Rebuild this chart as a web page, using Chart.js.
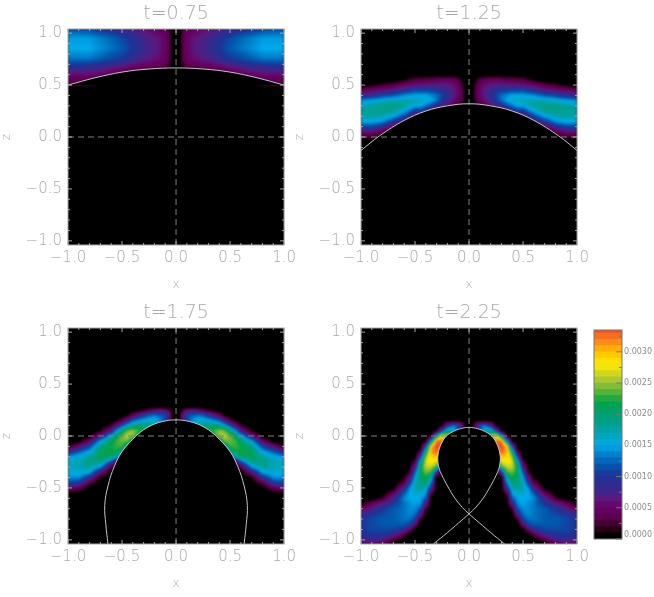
<!DOCTYPE html>
<html>
<head>
<meta charset="utf-8">
<script src="https://cdn.jsdelivr.net/npm/chart.js@4"></script>
<style>
  html, body { margin: 0; padding: 0; background: #fff; }
  body { width: 654px; height: 597px; position: relative; overflow: hidden; }
  canvas { position: absolute; }
</style>
</head>
<body>
<canvas id="p1" width="300" height="295" style="left:0;top:0"></canvas>
<canvas id="p2" width="300" height="295" style="left:293px;top:0"></canvas>
<canvas id="p3" width="300" height="295" style="left:0;top:299px"></canvas>
<canvas id="p4" width="300" height="295" style="left:293px;top:299px"></canvas>
<canvas id="bar" width="64" height="225" style="left:590px;top:324px"></canvas>
<script>
// half columns (x >= 0), the left half of each panel is the mirror of these
const xCols = [0, .03, .06, .1, .15, .2, .25, .3, .35, .4, .45, .5, .55, .6, .7, .8, .9, 1];

// values in units of 1e-4, one row per z
const z075 = [1.04, .95, .85, .75, .7, .65, .6, .55, .5, .45];
const v075 = [
  [0,0,2,4,4.5,5,5.5,6,6.5,7,7.5,8,8.5,9,10,11,11.5,11.5],
  [0,0,3,5,6,6.5,7,7.5,8.5,9.5,10.5,11,12,12.5,13.5,14.5,14.5,14.5],
  [0,0,3,5,6,7,7.5,8,9,10,11,12,12.5,13,14,15,15,15],
  [0,0,3,4.5,5.5,6,6.5,7,8,8.5,9.5,10,10.5,11,12,13,13,13],
  [0,0,2,3.5,4,4.5,5,5,5.5,6,7,7.5,8,8.5,9.5,10,10.5,10.5],
  [0,0,1,2,2,2.5,2.5,3,3.5,4,4.5,5,5.5,6,7,7.5,8,8],
  [0,0,0,1,1,1,2,2,2,2.5,3,3,3.5,4,5,5.5,5.5,5.5],
  [0,0,0,0,0,0,1,1,1,1,1.5,1.5,2,2,3,3.5,4,4],
  [0,0,0,0,0,0,0,0,0,0,0,0,0,0,1,1.5,2,2],
  [0,0,0,0,0,0,0,0,0,0,0,0,0,0,0,0,0,0]
];

const z125 = [.6, .55, .5, .45, .4, .35, .3, .25, .2, .15, .1, .05, 0, -.05];
const v125 = [
  [0,0,0,0,0,0,0,0,0,0,0,0,0,0,0,0,0,0],
  [0,0,1,3,4,4.5,4.5,4,3.5,3.5,3,3,2,1,0,0,0,0],
  [0,0,2,4.5,6,6.5,7,7,7,6.5,6.5,6,5.5,5,3,2,1,0],
  [0,0,3,5,7,8,9,10,10.5,11,11,11,10,9,7,6,5,4],
  [0,0,3,5,7,9,11,13,14,15,15,15,14.5,14,12,11,9,8],
  [0,0,2,4,6,8,10,13,15,16,16.5,16.5,17,17,17,16,15,14],
  [0,0,1,2,3,5,7,8,11,13,15,15,16.5,18,19,18.5,18,17],
  [0,0,0,0,1,1,2,2,5,8,10,10,13,15,18,18.5,18,18],
  [0,0,0,0,0,0,0,1,2,3,3,4,8,11,15,17,17.5,17],
  [0,0,0,0,0,0,0,0,0,1,1,1,3,6,10,14,15.5,15],
  [0,0,0,0,0,0,0,0,0,0,0,0,1,2,4,9,11,11],
  [0,0,0,0,0,0,0,0,0,0,0,0,0,0,0,3,6,6],
  [0,0,0,0,0,0,0,0,0,0,0,0,0,0,0,1,2,2],
  [0,0,0,0,0,0,0,0,0,0,0,0,0,0,0,0,0,0]
];

const z175 = [.28, .25, .2, .15, .1, .05, 0, -.05, -.1, -.15, -.2, -.25, -.3, -.35, -.4, -.45, -.5, -.55];
const v175 = [
  [0,0,0,0,0,0,0,0,0,0,0,0,0,0,0,0,0,0],
  [0,0,2,5,6,5,3,1,0,0,0,0,0,0,0,0,0,0],
  [0,0,7,11,12,13,12,10,7,4,1,0,0,0,0,0,0,0],
  [0,0,4,11,14,16,16,15,14,12,7,3,1,0,0,0,0,0],
  [0,0,0,9,13,17,19,20,20,19,16,11,6,2,0,0,0,0],
  [0,0,0,0,0,12,18,21,23,25,24,20,15,7,1,0,0,0],
  [0,0,0,0,0,0,0,16,21,25,26,24,21,16,7,0,0,0],
  [0,0,0,0,0,0,0,0,12,18,24,24,23,21,15,5,0,0],
  [0,0,0,0,0,0,0,0,0,0,18,23,23,22,19,11,6,1],
  [0,0,0,0,0,0,0,0,0,0,2,18,22,22,21,15,12,8],
  [0,0,0,0,0,0,0,0,0,0,0,5,17,21,21,18,16,14],
  [0,0,0,0,0,0,0,0,0,0,0,0,3,11,19,19,17,16],
  [0,0,0,0,0,0,0,0,0,0,0,0,0,3,14,18,17,16],
  [0,0,0,0,0,0,0,0,0,0,0,0,0,0,6,15,16,15],
  [0,0,0,0,0,0,0,0,0,0,0,0,0,0,1,9,14,14],
  [0,0,0,0,0,0,0,0,0,0,0,0,0,0,0,3,10,11],
  [0,0,0,0,0,0,0,0,0,0,0,0,0,0,0,0,4,6],
  [0,0,0,0,0,0,0,0,0,0,0,0,0,0,0,0,0,1]
];

const z225 = [.15, .1, .05, 0, -.05, -.1, -.15, -.2, -.25, -.3, -.35, -.4, -.45, -.5, -.55, -.6, -.65, -.7, -.75, -.8, -.85, -.9, -.95, -1, -1.04];
const v225 = [
  [0,0,0,0,0,0,0,0,0,0,0,0,0,0,0,0,0,0],
  [0,0,6,12,13,8,1,0,0,0,0,0,0,0,0,0,0,0],
  [0,0,0,10,18,20,10,1,0,0,0,0,0,0,0,0,0,0],
  [0,0,0,0,0,26,30,18,2,0,0,0,0,0,0,0,0,0],
  [0,0,0,0,0,0,33,33,16,1,0,0,0,0,0,0,0,0],
  [0,0,0,0,0,0,33,34,30,10,0,0,0,0,0,0,0,0],
  [0,0,0,0,0,0,30,33,31,20,3,0,0,0,0,0,0,0],
  [0,0,0,0,0,0,25,30,29,25,10,0,0,0,0,0,0,0],
  [0,0,0,0,0,0,20,27,28,27,17,3,0,0,0,0,0,0],
  [0,0,0,0,0,0,0,23,26,26,21,7,1,0,0,0,0,0],
  [0,0,0,0,0,0,0,8,23,24,21,12,2,0,0,0,0,0],
  [0,0,0,0,0,0,0,0,18,22,20,15,6,1,0,0,0,0],
  [0,0,0,0,0,0,0,0,13,20,19,17,10,3,0,0,0,0],
  [0,0,0,0,0,0,0,0,9,17,18,17,14,8,0,0,0,0],
  [0,0,0,0,0,0,0,0,3,15,16,16,15,12,4,0,0,0],
  [0,0,0,0,0,0,0,0,0,12,15,15,15,14,8,2,0,0],
  [0,0,0,0,0,0,0,0,0,8,14,15,14,13,10,7,4,1],
  [0,0,0,0,0,0,0,0,0,2,12,14,14,13,12,10,7,4],
  [0,0,0,0,0,0,0,0,0,0,8,13,14,13,12,11,10,8],
  [0,0,0,0,0,0,0,0,0,0,2,11,13,13,12,12,11,10],
  [0,0,0,0,0,0,0,0,0,0,0,6,11,12,12,12,11,10],
  [0,0,0,0,0,0,0,0,0,0,0,0,5,9,11,11,11,10],
  [0,0,0,0,0,0,0,0,0,0,0,0,0,3,8,10,10,9],
  [0,0,0,0,0,0,0,0,0,0,0,0,0,0,3,7,8,7],
  [0,0,0,0,0,0,0,0,0,0,0,0,0,0,0,4,5,5]
];

// white boundary curves
const cx075 = [-1, -.75, -.5, -.25, 0, .25, .5, .75, 1];
const cz075 = [.5, .57, .625, .655, .665, .655, .625, .57, .5];
const cx125 = [-1, -.83, -.6, -.4, -.2, 0, .2, .4, .6, .83, 1];
const cz125 = [-.13, .01, .16, .25, .3, .32, .3, .25, .16, .01, -.13];
const cx175 = [-.63, -.65, -.66, -.63, -.57, -.5, -.4, -.3, -.2, -.1, 0, .1, .2, .3, .4, .5, .57, .63, .66, .65, .63];
const cz175 = [-1.04, -.85, -.67, -.48, -.29, -.15, -.03, .06, .115, .145, .155, .145, .115, .06, -.03, -.15, -.29, -.48, -.67, -.85, -1.04];
const cx225 = [.33, .2, .1, 0, -.06, -.13, -.2, -.25, -.28, -.29, -.28, -.25, -.21, -.154, -.08, 0, .08, .154, .21, .25, .28, .29, .28, .25, .2, .13, .06, 0, -.1, -.2, -.33];
const cz225 = [-1.04, -.93, -.84, -.75, -.69, -.6, -.48, -.38, -.3, -.22, -.14, -.06, 0, .04, .07, .083, .07, .04, 0, -.06, -.14, -.22, -.3, -.38, -.48, -.6, -.69, -.75, -.84, -.93, -1.04];

const axisTicks = [-1, -.5, 0, .5, 1];
const axisMinor = [-.9, -.8, -.7, -.6, -.4, -.3, -.2, -.1, .1, .2, .3, .4, .6, .7, .8, .9];

// colour table, value in 1e-4
const colorValues = [0, 1, 1.5, 3, 5, 6.5, 8, 10, 12, 14, 15, 16.5, 18, 20, 22, 23, 25, 26.5, 28, 30, 32, 34];
const colorStops = [[0,0,0],[0,0,0],[40,0,20],[85,0,70],[105,0,100],[90,25,125],[55,40,140],[30,50,150],[0,90,175],[0,140,215],[0,170,235],[0,165,190],[0,160,150],[0,160,110],[0,165,70],[60,175,60],[150,195,55],[210,215,30],[255,235,0],[255,190,0],[250,125,30],[235,70,40]];
const barLevels = [1,2,3,4,5,6,7,8,9,10,11,12,13,14,15,16,17,18,19,20,21,22,23,24,25,26,27,28,29,30,31,32,33,34];
const barTicks = [0, .0005, .001, .0015, .002, .0025, .003];
const barMinor = [.00025, .00075, .00125, .00175, .00225, .00275, .00325];

const GRAY = '#a8a8a8';
const FONT = '"DejaVu Sans"';

function colorFor(v) {
  if (v <= 0) return colorStops[0];
  for (let i = 1; i < colorValues.length; i++) {
    if (v <= colorValues[i]) {
      const a = colorStops[i - 1], b = colorStops[i];
      const f = (v - colorValues[i - 1]) / (colorValues[i] - colorValues[i - 1]);
      return [a[0] + (b[0] - a[0]) * f, a[1] + (b[1] - a[1]) * f, a[2] + (b[2] - a[2]) * f];
    }
  }
  return colorStops[colorStops.length - 1];
}

function bracket(list, v) {
  if (v <= list[0] || v >= list[list.length - 1]) return -1;
  let i = 0;
  while (list[i + 1] < v) i++;
  return i;
}

// draws the cells held in dataset 0, read through the chart's scales
const fieldPlugin = {
  id: 'field',
  beforeDatasetsDraw(chart) {
    const { ctx, chartArea: a, scales } = chart;
    const cells = chart.data.datasets[0].data;
    const xs = [...new Set(cells.map(c => c.x))].sort((p, q) => p - q);
    const zs = [...new Set(cells.map(c => c.y))].sort((p, q) => p - q);
    const lookup = new Map(cells.map(c => [c.x + '/' + c.y, c.v]));
    const at = (i, j) => lookup.get(xs[i] + '/' + zs[j]);
    const w = Math.round(a.right - a.left), h = Math.round(a.bottom - a.top);
    const off = document.createElement('canvas');
    off.width = w; off.height = h;
    const octx = off.getContext('2d');
    const img = octx.createImageData(w, h);
    for (let py = 0; py < h; py++) {
      const z = scales.y.getValueForPixel(a.top + py + .5);
      const j = bracket(zs, z);
      for (let px = 0; px < w; px++) {
        const x = scales.x.getValueForPixel(a.left + px + .5);
        const i = bracket(xs, x);
        let v = 0;
        if (i >= 0 && j >= 0) {
          const fx = (x - xs[i]) / (xs[i + 1] - xs[i]), fz = (z - zs[j]) / (zs[j + 1] - zs[j]);
          v = (at(i, j) * (1 - fx) + at(i + 1, j) * fx) * (1 - fz) + (at(i, j + 1) * (1 - fx) + at(i + 1, j + 1) * fx) * fz;
        }
        const c = colorFor(v), k = (py * w + px) * 4;
        img.data[k] = c[0]; img.data[k + 1] = c[1]; img.data[k + 2] = c[2]; img.data[k + 3] = 255;
      }
    }
    octx.putImageData(img, 0, 0);
    ctx.save();
    ctx.fillStyle = '#000';
    ctx.fillRect(a.left, a.top, a.right - a.left, a.bottom - a.top);
    // nothing is emitted inside the boundary curve
    const curve = chart.data.datasets[1].data;
    ctx.beginPath();
    ctx.rect(a.left, a.top, a.right - a.left, a.bottom - a.top);
    curve.forEach((p, n) => {
      const X = scales.x.getPixelForValue(p.x), Y = scales.y.getPixelForValue(p.y);
      if (n) ctx.lineTo(X, Y); else ctx.moveTo(X, Y);
    });
    ctx.closePath();
    ctx.clip('evenodd');
    ctx.filter = 'blur(0.8px)';
    ctx.drawImage(off, a.left, a.top);
    ctx.restore();
  }
};

function tickMark(ctx, x0, y0, x1, y1) {
  ctx.beginPath();
  ctx.moveTo(x0, y0);
  ctx.lineTo(x1, y1);
  ctx.stroke();
}

// inward ticks on all four sides plus the box
const framePlugin = {
  id: 'frame',
  afterDatasetsDraw(chart) {
    const { ctx, chartArea: a, scales } = chart;
    ctx.save();
    ctx.strokeStyle = GRAY;
    ctx.lineWidth = 1;
    const mark = (list, len) => list.forEach(v => {
      const X = scales.x.getPixelForValue(v), Y = scales.y.getPixelForValue(v);
      tickMark(ctx, X, a.bottom, X, a.bottom - len);
      tickMark(ctx, X, a.top, X, a.top + len);
      tickMark(ctx, a.left, Y, a.left + len, Y);
      tickMark(ctx, a.right, Y, a.right - len, Y);
    });
    mark(axisTicks, 4);
    mark(axisMinor, 2);
    ctx.strokeRect(a.left, a.top, a.right - a.left, a.bottom - a.top);
    ctx.restore();
  }
};

function makePanel(id, title, zRows, values, cx, cz) {
  const cells = [];
  zRows.forEach((z, r) => {
    xCols.forEach((x, c) => {
      cells.push({ x, y: z, v: values[r][c] });
      if (x > 0) cells.push({ x: -x, y: z, v: values[r][c] });
    });
  });
  return new Chart(document.getElementById(id), {
    type: 'scatter',
    data: {
      datasets: [
        { data: cells, pointRadius: 0, showLine: false },
        { data: cx.map((x, i) => ({ x, y: cz[i] })), showLine: true, pointRadius: 0, borderColor: '#c4c4c4', borderWidth: 1, tension: .4, fill: false },
        { data: [{ x: -1, y: 0 }, { x: 1, y: 0 }], showLine: true, pointRadius: 0, borderColor: '#808080', borderWidth: 1, borderDash: [6, 4] },
        { data: [{ x: 0, y: -1.04 }, { x: 0, y: 1.04 }], showLine: true, pointRadius: 0, borderColor: '#808080', borderWidth: 1, borderDash: [6, 4] }
      ]
    },
    options: {
      responsive: false,
      animation: false,
      devicePixelRatio: 1,
      layout: { padding: { right: 15 } },
      plugins: {
        legend: { display: false },
        tooltip: { enabled: false },
        title: { display: true, fullSize: false, text: title, color: GRAY, font: { family: FONT, size: 19, weight: 200, lineHeight: 1.2 }, padding: { top: 3, bottom: 3.2 } }
      },
      scales: {
        x: {
          type: 'linear', min: -1, max: 1,
          afterBuildTicks: s => { s.ticks = axisTicks.map(value => ({ value })); },
          afterFit: s => { s.height = 50; },
          ticks: { color: GRAY, font: { family: FONT, size: 15, weight: 200 }, padding: 4, maxRotation: 0, callback: v => v.toFixed(1).replace('-', '\u2212') },
          grid: { display: false, drawTicks: false },
          border: { display: false },
          title: { display: true, text: 'x', color: GRAY, font: { family: FONT, size: 12, weight: 200 }, padding: { top: 0, bottom: 3 } }
        },
        y: {
          type: 'linear', min: -1.04, max: 1.04,
          afterBuildTicks: s => { s.ticks = axisTicks.map(value => ({ value })); },
          afterFit: s => { s.width = 68; },
          ticks: { color: GRAY, font: { family: FONT, size: 15, weight: 200 }, padding: 6, callback: v => v.toFixed(1).replace('-', '\u2212') },
          grid: { display: false, drawTicks: false },
          border: { display: false },
          title: { display: true, text: 'z', color: GRAY, font: { family: FONT, size: 12, weight: 200 }, padding: { top: 0, bottom: 0 } }
        }
      }
    },
    plugins: [fieldPlugin, framePlugin]
  });
}

makePanel('p1', 't=0.75', z075, v075, cx075, cz075);
makePanel('p2', 't=1.25', z125, v125, cx125, cz125);
makePanel('p3', 't=1.75', z175, v175, cx175, cz175);
makePanel('p4', 't=2.25', z225, v225, cx225, cz225);

// colour bar: one floating bar per level, the first dataset is drawn on top
new Chart(document.getElementById('bar'), {
  type: 'bar',
  data: {
    labels: [''],
    datasets: barLevels.map(l => {
      const c = colorFor(l - .5);
      return { data: [[0, l * 1e-4]], backgroundColor: `rgb(${c[0]},${c[1]},${c[2]})`, grouped: false, barPercentage: 1, categoryPercentage: 1 };
    })
  },
  options: {
    responsive: false,
    animation: false,
    devicePixelRatio: 1,
    layout: { padding: { left: 4, top: 5, bottom: 5 } },
    plugins: { legend: { display: false }, tooltip: { enabled: false } },
    scales: {
      x: { display: false },
      y: {
        position: 'right', min: 0, max: .00335,
        afterBuildTicks: s => { s.ticks = barTicks.map(value => ({ value })); },
        afterFit: s => { s.width = 32; },
        ticks: { color: '#8c8c8c', font: { family: FONT, size: 8, lineHeight: 1 }, padding: 2, callback: v => v === 0 ? ['0.0000', ''] : v.toFixed(4) },
        grid: { display: false, drawTicks: false },
        border: { display: false }
      }
    }
  },
  plugins: [{
    id: 'barFrame',
    afterDatasetsDraw(chart) {
      const { ctx, chartArea: a, scales } = chart;
      ctx.save();
      ctx.strokeStyle = '#777';
      ctx.lineWidth = 1;
      barTicks.forEach(v => { const Y = scales.y.getPixelForValue(v); tickMark(ctx, a.right, Y, a.right - 6, Y); });
      barMinor.forEach(v => { const Y = scales.y.getPixelForValue(v); tickMark(ctx, a.right, Y, a.right - 3, Y); });
      ctx.strokeRect(a.left, a.top, a.right - a.left, a.bottom - a.top);
      ctx.restore();
    }
  }]
});
</script>
</body>
</html>
